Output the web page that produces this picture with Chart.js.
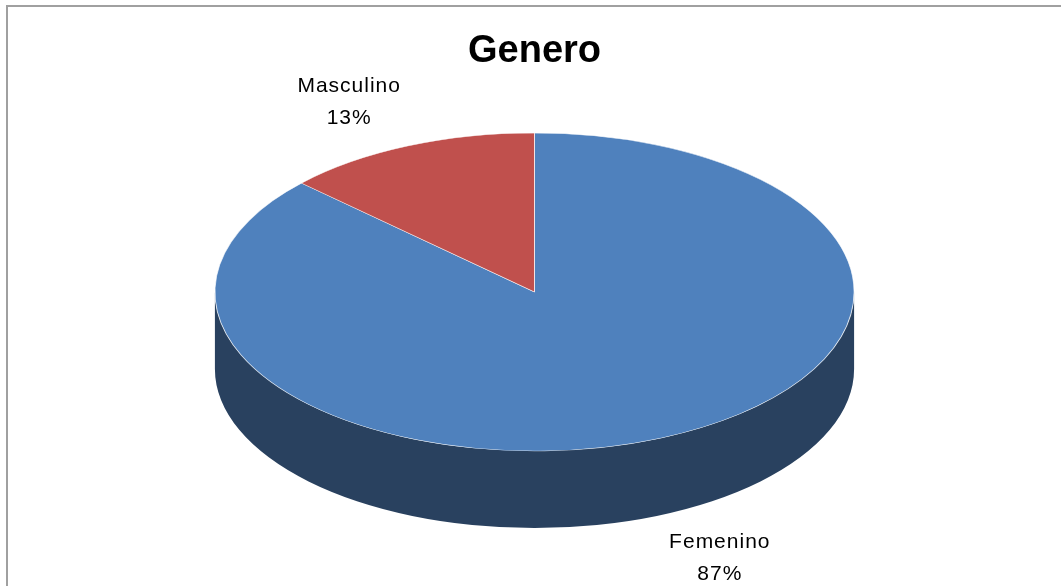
<!DOCTYPE html>
<html>
<head>
<meta charset="utf-8">
<script src="https://cdn.jsdelivr.net/npm/chart.js@4.4.1/dist/chart.umd.min.js"></script>
<style>
  body { margin: 0; background: #fff; overflow: hidden; }
  #wrap { position: relative; width: 1061px; height: 586px; }
  #marco { position: absolute; left: 6px; top: 5px; width: 1100px; height: 640px;
           border-top: 2px solid #a0a0a0; border-left: 2px solid #a0a0a0; }
  #grafico { position: absolute; left: 0; top: 0; }
</style>
</head>
<body>
<div id="wrap">
  <div id="marco"></div>
  <canvas id="grafico" width="1061" height="586"></canvas>
</div>
<script>
// dados do grafico
const categorias = ["Femenino", "Masculino"];
const valores = [87, 13];
const rotulos = ["87%", "13%"];

const cores = ["#4f81bd", "#c0504d"];
const coresLado = ["#29415f", "#6b2a28"];

const ESCALA_X = 2.01;   // achata o circulo numa elipse
const PROFUNDIDADE = 77; // altura da lateral 3D

// desenha a lateral e estica a pizza na horizontal
const pizza3d = {
  id: "pizza3d",
  beforeDatasetsDraw(chart) {
    const ctx = chart.ctx;
    const meta = chart.getDatasetMeta(0);
    const cx = meta.data[0].x;
    ctx.save();
    ctx.translate(cx, 0);
    ctx.scale(ESCALA_X, 1);
    ctx.translate(-cx, 0);
    meta.data.forEach(function (arc, i) {
      for (let k = -1; k <= 1; k++) {
        const a1 = Math.max(arc.startAngle + k * 2 * Math.PI, 0);
        const a2 = Math.min(arc.endAngle + k * 2 * Math.PI, Math.PI);
        if (a2 <= a1) continue;
        ctx.beginPath();
        ctx.arc(arc.x, arc.y, arc.outerRadius, a1, a2);
        ctx.arc(arc.x, arc.y + PROFUNDIDADE, arc.outerRadius, a2, a1, true);
        ctx.closePath();
        ctx.fillStyle = coresLado[i];
        ctx.fill();
      }
    });
  },
  afterDatasetsDraw(chart) {
    chart.ctx.restore();
  },
  afterDraw(chart) {
    const ctx = chart.ctx;
    const meta = chart.getDatasetMeta(0);
    ctx.save();
    ctx.font = "21px 'Liberation Sans', Arial, sans-serif";
    ctx.letterSpacing = "1px";
    ctx.fillStyle = "#000";
    ctx.textAlign = "center";
    ctx.textBaseline = "middle";
    meta.data.forEach(function (arc, i) {
      const meio = (arc.startAngle + arc.endAngle) / 2;
      const r = arc.outerRadius;
      const x = arc.x + Math.cos(meio) * r * ESCALA_X * 1.46;
      let y = arc.y + Math.sin(meio) * r * 1.30;
      if (Math.sin(meio) > 0) y += PROFUNDIDADE;
      ctx.fillText(categorias[i], x, y - 16);
      ctx.fillText(rotulos[i], x, y + 16);
    });
    ctx.restore();
  }
};

new Chart(document.getElementById("grafico"), {
  type: "pie",
  data: {
    labels: categorias,
    datasets: [{
      data: valores,
      backgroundColor: cores,
      borderColor: "rgba(255,255,255,0.7)",
      borderWidth: 0.5,
      radius: 159,
      hoverOffset: 0,
      clip: false
    }]
  },
  options: {
    responsive: false,
    animation: false,
    layout: { padding: { left: 375, right: 367, top: 0, bottom: 135 } },
    plugins: {
      legend: { display: false },
      tooltip: { enabled: false },
      title: {
        display: true,
        text: "Genero",
        color: "#000",
        font: { family: "'Liberation Sans', Arial, sans-serif", size: 38, weight: "bold", lineHeight: 1.2 },
        padding: { top: 28.7, bottom: 58.7 }
      }
    }
  },
  plugins: [pizza3d]
});
</script>
</body>
</html>
